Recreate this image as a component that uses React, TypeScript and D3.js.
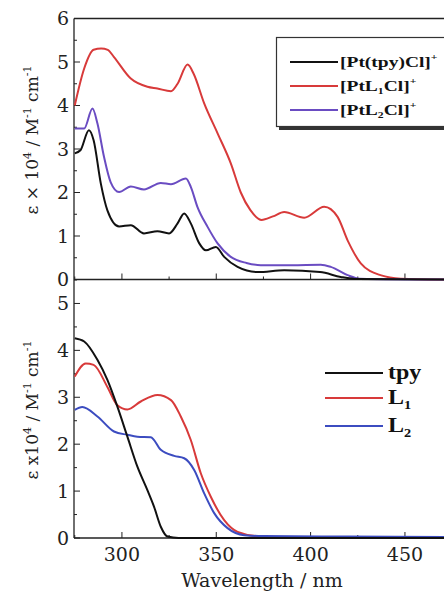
import React from 'react';
import * as d3 from 'd3';

// top panel: complexes (ε × 10^4)
const wlPtTpy = [275, 278, 282.5, 285, 288.8, 292.3, 298.5, 304.7, 311.7, 318.8, 325, 329.5, 333, 336.5, 341, 344.5, 349.8, 354.2, 361.3, 372, 386, 405, 416, 425, 471];
const epsPtTpy = [2.9, 2.97, 3.43, 3.2, 2.21, 1.59, 1.22, 1.25, 1.06, 1.11, 1.06, 1.29, 1.52, 1.29, 0.83, 0.67, 0.75, 0.52, 0.29, 0.17, 0.21, 0.17, 0.06, 0.01, 0];

const wlPtL1 = [275, 280, 285, 289, 292.5, 295.7, 304.7, 313.5, 318.8, 326, 329.5, 334.8, 338, 343.6, 350.7, 357.7, 363, 368, 374, 380, 386, 396.6, 407.2, 414.3, 419.6, 426.6, 437, 447.8, 471];
const epsPtL1 = [4.0, 4.85, 5.28, 5.31, 5.28, 5.12, 4.62, 4.43, 4.39, 4.33, 4.5, 4.94, 4.73, 4.05, 3.36, 2.67, 2.0, 1.6, 1.37, 1.45, 1.55, 1.42, 1.67, 1.44, 0.9, 0.37, 0.1, 0.02, 0];

const wlPtL2 = [275, 280, 284.4, 287, 290.5, 294, 298.5, 304.7, 311.7, 320.6, 326, 333.9, 336.5, 340, 345.4, 350.7, 357.7, 366, 373.6, 390, 405.4, 410.7, 419.6, 426, 471];
const epsPtL2 = [3.47, 3.47, 3.93, 3.59, 2.82, 2.24, 2.01, 2.14, 2.07, 2.22, 2.19, 2.32, 2.13, 1.67, 1.21, 0.83, 0.52, 0.38, 0.33, 0.33, 0.34, 0.29, 0.1, 0.02, 0];

// bottom panel: ligands
const wlTpy = [275, 280, 287, 292.3, 297.6, 302.9, 308.2, 313.5, 317, 320.6, 324.2, 330, 471];
const epsTpy = [4.26, 4.19, 3.8, 3.37, 2.8, 2.16, 1.52, 1.02, 0.67, 0.24, 0.03, 0, 0];

const wlL1 = [275, 280.8, 285, 292.3, 297.6, 302.9, 310, 318.8, 326, 331.2, 336.5, 341.8, 347.1, 354.2, 361.3, 372, 400, 471];
const epsL1 = [3.44, 3.72, 3.69, 3.22, 2.83, 2.74, 2.91, 3.05, 2.94, 2.59, 2.09, 1.38, 0.88, 0.38, 0.13, 0.04, 0.01, 0];

const wlL2 = [275, 279, 287, 295.8, 302.9, 308.2, 315.3, 320.6, 327.7, 333, 338.3, 343.6, 348.9, 356, 364.8, 375, 420, 471];
const epsL2 = [2.73, 2.79, 2.59, 2.27, 2.2, 2.16, 2.15, 1.88, 1.75, 1.7, 1.45, 0.95, 0.53, 0.21, 0.06, 0.04, 0.03, 0.02];

const xTicks = [300, 350, 400, 450];
const topYTicks = [0, 1, 2, 3, 4, 5, 6];
const botYTicks = [0, 1, 2, 3, 4, 5];

const RED = '#d83a3a';
const PURPLE = '#6a4cc2';
const BLUE = '#3c4cc0';
const BLACK = '#111';

const serif = "'DejaVu Serif', 'Liberation Serif', serif";
const boldSerif = "'Liberation Serif', 'Times New Roman', serif";

function zip(xs: number[], ys: number[]) {
  return xs.map((x, i) => [x, ys[i]] as [number, number]);
}

export default function App() {
  const x = d3.scaleLinear().domain([274.6, 470.7]).range([74, 444]);
  const yTop = d3.scaleLinear().domain([0, 6]).range([279.5, 18.5]);
  const yBot = d3.scaleLinear().domain([0, 5.5]).range([538, 280]);

  const lineTop = d3.line<[number, number]>().x(d => x(d[0])).y(d => yTop(d[1])).curve(d3.curveMonotoneX);
  const lineBot = d3.line<[number, number]>().x(d => x(d[0])).y(d => yBot(d[1])).curve(d3.curveMonotoneX);

  const minorX = d3.range(275, 471, 25);
  const topMinorY = d3.range(0, 6.01, 0.5);
  const botMinorY = d3.range(0, 5.51, 0.5);

  return (
    <svg width={444} height={593} style={{ position: 'absolute', left: 0, top: 0, background: '#fff' }}>
      <defs>
        <clipPath id="plot">
          <rect x={74} y={18} width={370} height={521} />
        </clipPath>
      </defs>

      {/* frame */}
      <g stroke="#222" strokeWidth={1.3} fill="none">
        <line x1={74} x2={444} y1={18.5} y2={18.5} />
        <line x1={74} x2={74} y1={18.5} y2={538} />
        <line x1={74} x2={444} y1={279.5} y2={279.5} />
        <line x1={74} x2={444} y1={538} y2={538} />
      </g>

      {/* ticks */}
      <g stroke="#222" strokeWidth={1}>
        {topMinorY.map(v => (
          <line key={'tt' + v} x1={74} x2={Number.isInteger(v) ? 80 : 77} y1={yTop(v)} y2={yTop(v)} />
        ))}
        {botMinorY.map(v => (
          <line key={'bt' + v} x1={74} x2={Number.isInteger(v) ? 80 : 77} y1={yBot(v)} y2={yBot(v)} />
        ))}
        {minorX.map(v => (
          <g key={'xt' + v}>
            <line x1={x(v)} x2={x(v)} y1={279.5} y2={279.5 - (v % 50 === 0 ? 6 : 3)} />
            <line x1={x(v)} x2={x(v)} y1={538} y2={538 - (v % 50 === 0 ? 6 : 3)} />
          </g>
        ))}
      </g>

      <g fontSize={19} fill="#222" style={{ fontFamily: serif }}>
        {topYTicks.map(v => (
          <text key={'tl' + v} x={69} y={yTop(v)} dy="0.35em" textAnchor="end">{v}</text>
        ))}
        {botYTicks.map(v => (
          <text key={'bl' + v} x={69} y={yBot(v)} dy="0.35em" textAnchor="end">{v}</text>
        ))}
        {xTicks.map(v => (
          <text key={'xl' + v} x={x(v)} y={561} textAnchor="middle">{v}</text>
        ))}
        <text x={262} y={587} textAnchor="middle" fontSize={19}>Wavelength / nm</text>
        <text transform="translate(38,140) rotate(-90)" textAnchor="middle" fontSize={17}>
          ε × 10<tspan fontSize={11} dy={-7}>4</tspan>
          <tspan dy={7}> / M</tspan><tspan fontSize={11} dy={-7}>-1</tspan>
          <tspan dy={7}> cm</tspan><tspan fontSize={11} dy={-7}>-1</tspan>
        </text>
        <text transform="translate(38,410) rotate(-90)" textAnchor="middle" fontSize={17}>
          ε  x10<tspan fontSize={11} dy={-7}>4</tspan>
          <tspan dy={7}> / M</tspan><tspan fontSize={11} dy={-7}>-1</tspan>
          <tspan dy={7}> cm</tspan><tspan fontSize={11} dy={-7}>-1</tspan>
        </text>
      </g>

      {/* curves */}
      <g clipPath="url(#plot)" fill="none" strokeWidth={2} strokeLinejoin="round">
        <path d={lineTop(zip(wlPtL1, epsPtL1)) || ''} stroke={RED} />
        <path d={lineTop(zip(wlPtL2, epsPtL2)) || ''} stroke={PURPLE} />
        <path d={lineTop(zip(wlPtTpy, epsPtTpy)) || ''} stroke={BLACK} />
        <path d={lineBot(zip(wlL1, epsL1)) || ''} stroke={RED} />
        <path d={lineBot(zip(wlL2, epsL2)) || ''} stroke={BLUE} />
        <path d={lineBot(zip(wlTpy, epsTpy)) || ''} stroke={BLACK} />
      </g>

      {/* top legend */}
      <rect x={279} y={40} width={180} height={90} fill="#333" />
      <rect x={276.5} y={37.5} width={180} height={89} fill="#fff" stroke="#333" strokeWidth={1.2} />
      <g strokeWidth={2}>
        <line x1={290} x2={338} y1={62} y2={62} stroke={BLACK} />
        <line x1={290} x2={338} y1={86} y2={86} stroke={RED} />
        <line x1={290} x2={338} y1={110} y2={110} stroke={PURPLE} />
      </g>
      <g fontWeight="bold" fontSize={15} fill="#111" style={{ fontFamily: boldSerif }}>
        <g transform="translate(340,67) scale(1.3,1)">
          <text>[Pt(tpy)Cl]<tspan fontSize={9} dy={-7}>+</tspan></text>
        </g>
        <g transform="translate(340,91) scale(1.3,1)">
          <text>[PtL<tspan fontSize={9} dy={3}>1</tspan><tspan dy={-3}>Cl]</tspan><tspan fontSize={9} dy={-7}>+</tspan></text>
        </g>
        <g transform="translate(340,115) scale(1.3,1)">
          <text>[PtL<tspan fontSize={9} dy={3}>2</tspan><tspan dy={-3}>Cl]</tspan><tspan fontSize={9} dy={-7}>+</tspan></text>
        </g>
      </g>

      {/* bottom legend */}
      <g strokeWidth={2}>
        <line x1={325} x2={383} y1={373} y2={373} stroke={BLACK} />
        <line x1={325} x2={383} y1={398} y2={398} stroke={RED} />
        <line x1={325} x2={383} y1={426} y2={426} stroke={BLUE} />
      </g>
      <g fontWeight="bold" fontSize={20} fill="#111" style={{ fontFamily: boldSerif }}>
        <g transform="translate(388,379) scale(1.2,1)"><text>tpy</text></g>
        <g transform="translate(388,404) scale(1.2,1)"><text>L<tspan fontSize={12} dy={5}>1</tspan></text></g>
        <g transform="translate(388,432) scale(1.2,1)"><text>L<tspan fontSize={12} dy={5}>2</tspan></text></g>
      </g>
    </svg>
  );
}
